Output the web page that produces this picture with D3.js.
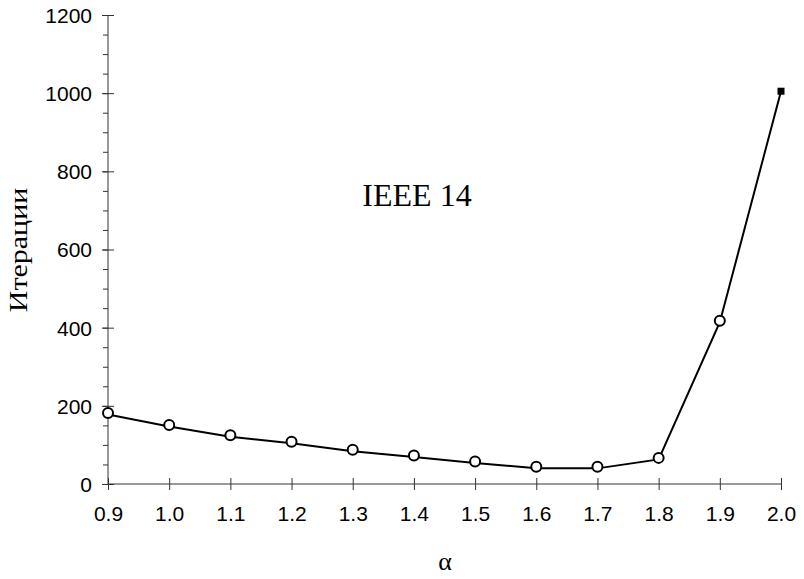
<!DOCTYPE html>
<html><head><meta charset="utf-8">
<script src="https://cdn.jsdelivr.net/npm/d3@7"></script>
<style>body{margin:0;background:#fff}svg{display:block}</style>
</head><body>
<svg id="c" width="804" height="579"></svg>
<script>
const alphaValues = [0.9, 1.0, 1.1, 1.2, 1.3, 1.4, 1.5, 1.6, 1.7, 1.8, 1.9, 2.0];
const iterations  = [178, 147, 121, 104, 84, 69, 54, 40, 40, 63, 414, 1005];
const xTicks = [0.9, 1.0, 1.1, 1.2, 1.3, 1.4, 1.5, 1.6, 1.7, 1.8, 1.9, 2.0];
const yTicks = [0, 200, 400, 600, 800, 1000, 1200];
const yMinorTicks = d3.range(0, 1201, 50);
const yLabel = "Итерации";
const xLabel = "α";
const annotation = "IEEE 14";

const svg = d3.select("#c");
const x = d3.scaleLinear().domain([0.9, 2.0]).range([108, 781]);
const y = d3.scaleLinear().domain([0, 1200]).range([484, 15]);
const sans = "'Liberation Sans', Arial, sans-serif";
const serif = "'Liberation Serif', 'Times New Roman', serif";

// Y axis
const gy = svg.append("g").attr("transform", `translate(${x(0.9)},0)`);
gy.call(d3.axisLeft(y).tickValues(yMinorTicks).tickSize(5).tickFormat(""));
gy.select(".domain").remove();
gy.selectAll("line").attr("stroke", "#333");
const gy2 = svg.append("g").attr("transform", `translate(${x(0.9)},0)`);
gy2.call(d3.axisLeft(y).tickValues(yTicks).tickSize(6).tickPadding(10).tickFormat(d3.format("d")));
gy2.select(".domain").attr("d", `M0,${y(0)}V${y(1200)}`).attr("stroke", "#333");
gy2.selectAll(".tick line").attr("x1", 6).attr("x2", -6).attr("stroke", "#333");
gy2.selectAll(".tick text").attr("font-family", sans).attr("font-size", 21).attr("fill", "#000").attr("dy", "0.35em");

// X axis
const gx = svg.append("g").attr("transform", `translate(0,${y(0)})`);
gx.call(d3.axisBottom(x).tickValues(xTicks).tickSize(6).tickPadding(16).tickFormat(d3.format(".1f")));
gx.select(".domain").attr("d", `M${x(0.9)},0H${x(2.0)}`).attr("stroke", "#333");
gx.selectAll(".tick line").attr("y1", -6).attr("y2", 6).attr("stroke", "#333");
gx.selectAll(".tick text").attr("font-family", sans).attr("font-size", 21).attr("fill", "#000");

// Line
const data = alphaValues.map((a, i) => ({a, v: iterations[i]}));
svg.append("path").datum(data)
  .attr("fill", "none").attr("stroke", "#000").attr("stroke-width", 2)
  .attr("d", d3.line().x(d => x(d.a)).y(d => y(d.v)));

// Markers
const circ = data.slice(0, data.length - 1);
svg.selectAll("circle.m").data(circ).join("circle")
  .attr("cx", d => x(d.a)).attr("cy", d => y(d.v) - 1.5).attr("r", 5)
  .attr("fill", "#fff").attr("stroke", "#000").attr("stroke-width", 2);
const last = data[data.length - 1];
svg.append("rect")
  .attr("x", x(last.a) - 3.5).attr("y", y(last.v) - 3.5).attr("width", 7).attr("height", 7)
  .attr("fill", "#000");

// Labels
svg.append("text").attr("transform", "translate(27,250) rotate(-90) scale(1,0.84)")
  .attr("text-anchor", "middle").attr("font-family", serif).attr("font-size", 30).text(yLabel);
svg.append("text").attr("x", 445).attr("y", 570)
  .attr("text-anchor", "middle").attr("font-family", serif).attr("font-size", 26).text(xLabel);
svg.append("text").attr("x", 417).attr("y", 206)
  .attr("text-anchor", "middle").attr("font-family", serif).attr("font-size", 32).text(annotation);
</script>
</body></html>
